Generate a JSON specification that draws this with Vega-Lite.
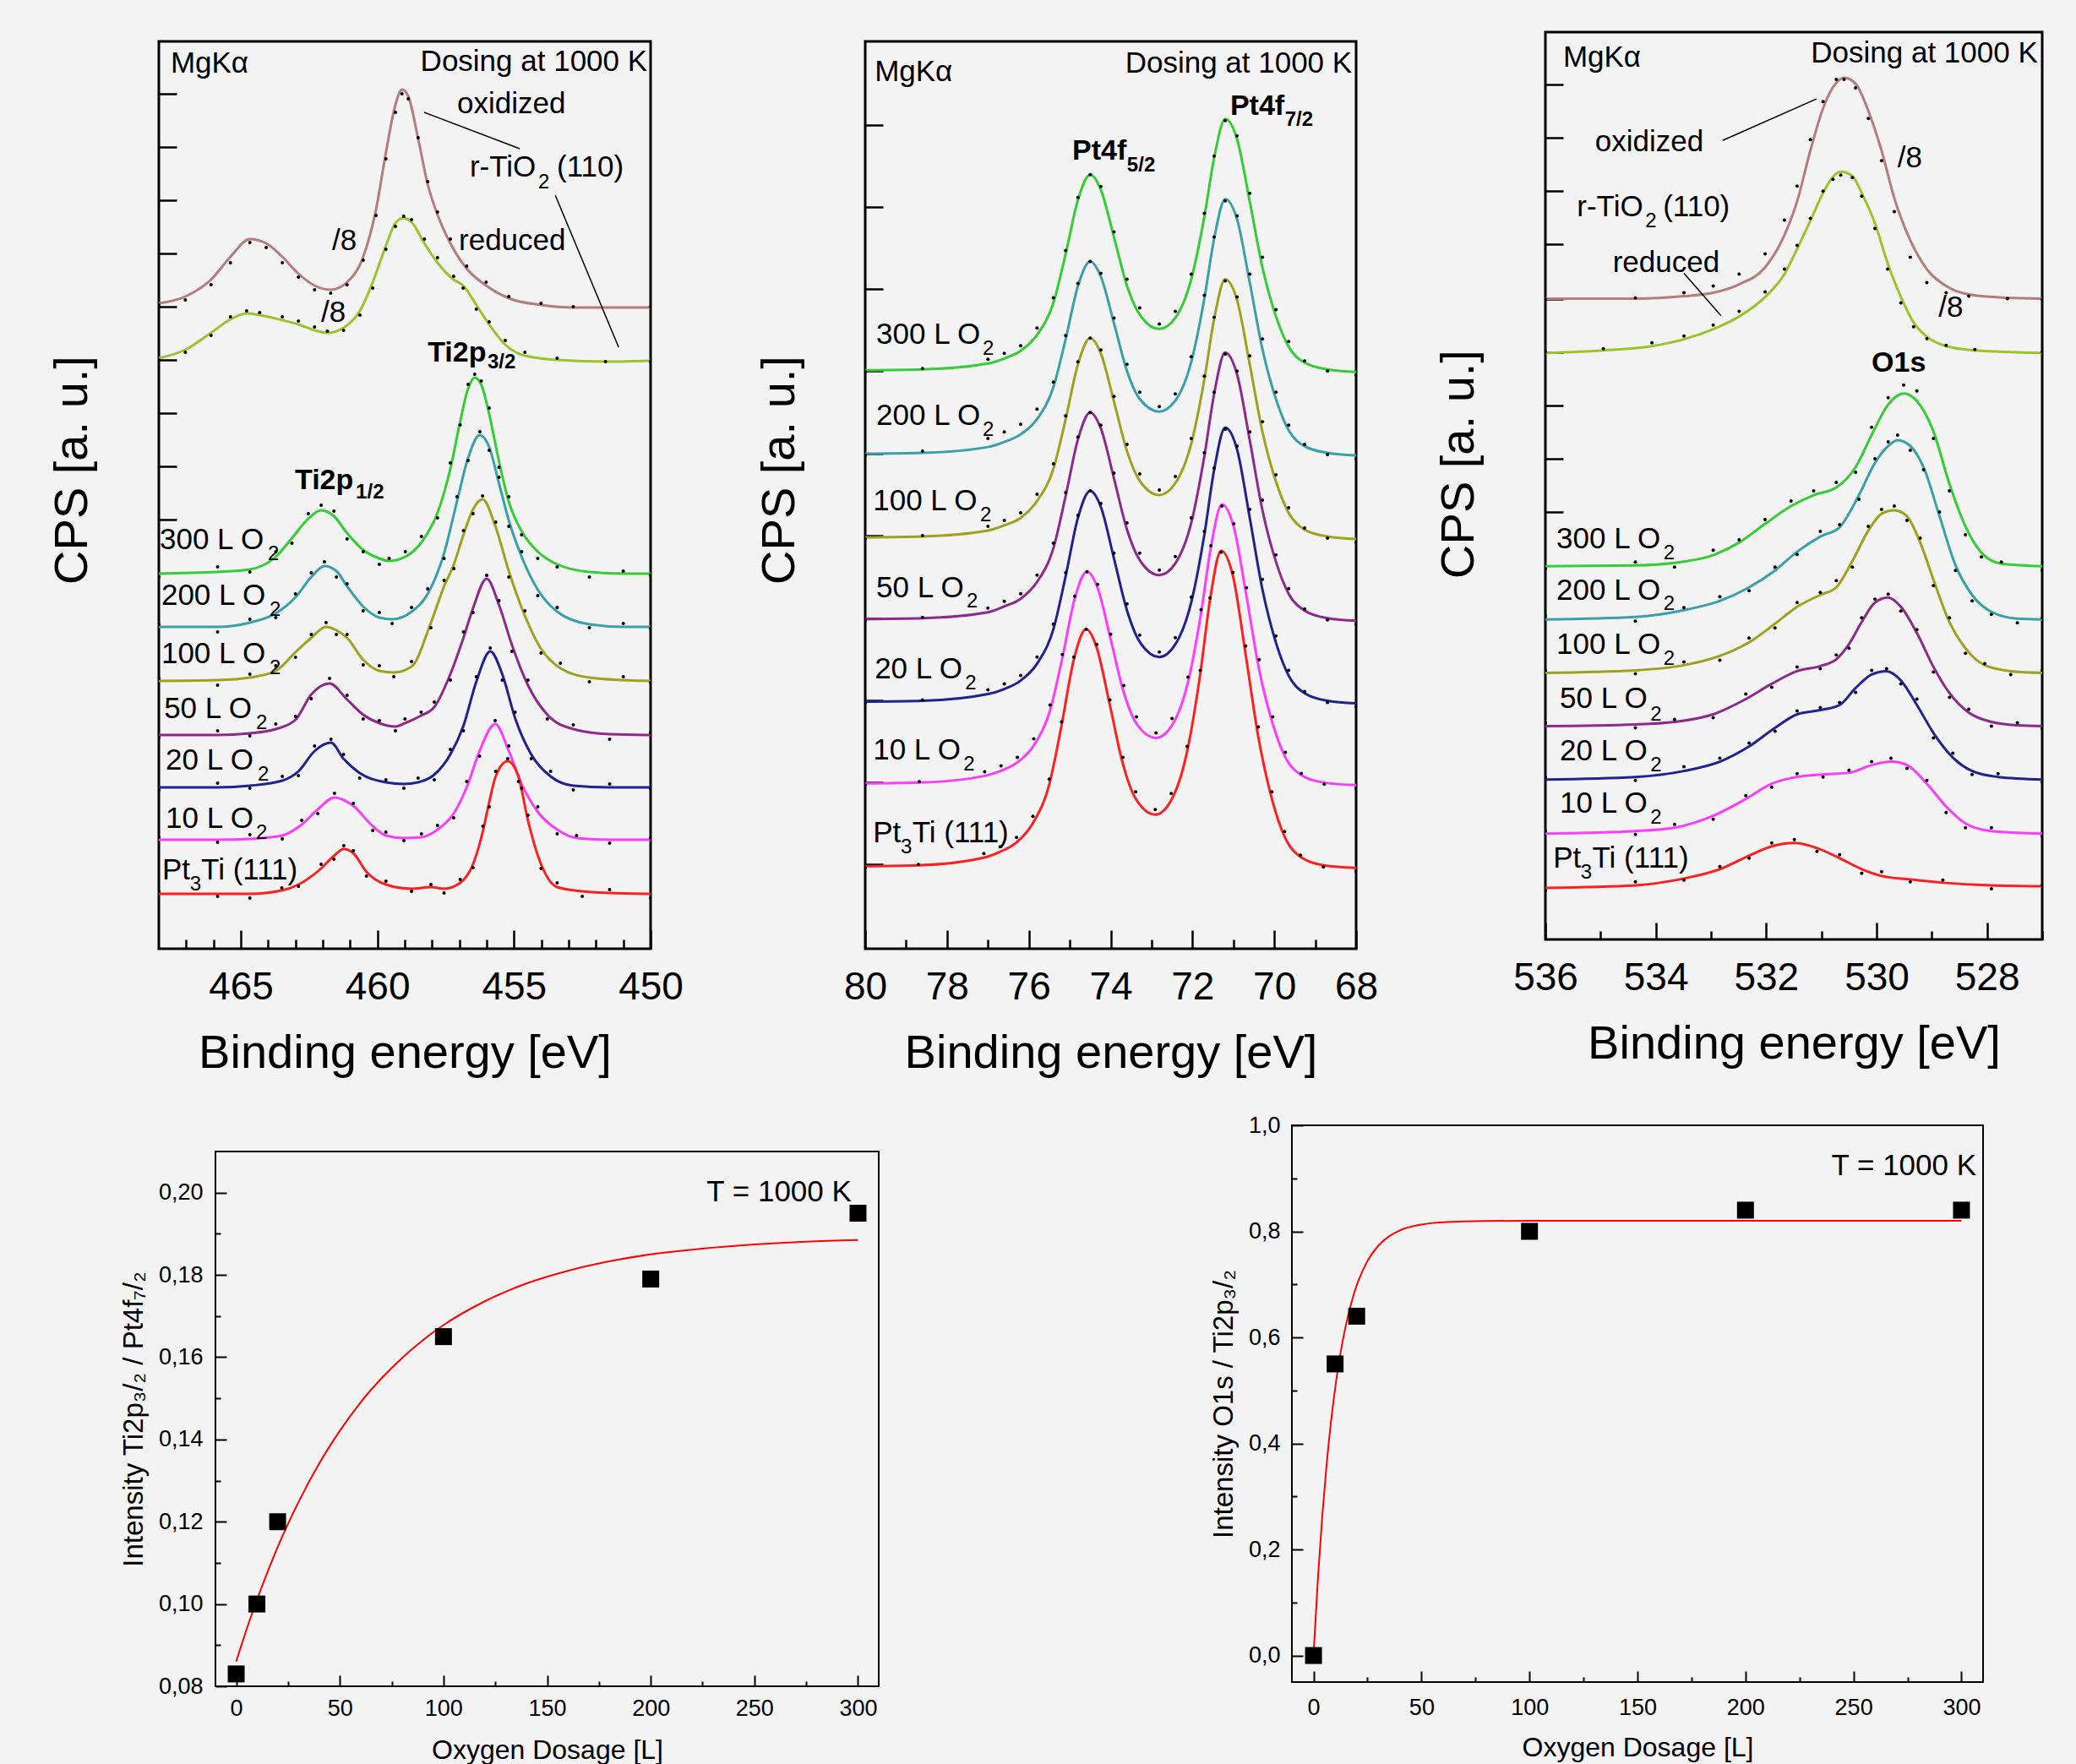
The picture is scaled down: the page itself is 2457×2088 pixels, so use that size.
{
"$schema": "https://vega.github.io/schema/vega-lite/v6.json",
"background": "#f3f3f3",
"padding": {"left": 55, "top": 36, "right": 40, "bottom": 5},
"config": {"font": "Liberation Sans", "text": {"font": "Liberation Sans", "color": "black"}, "axis": {"labelFont": "Liberation Sans", "titleFont": "Liberation Sans", "labelColor": "black", "titleColor": "black", "tickColor": "black", "titleFontWeight": "normal", "grid": false, "labelOverlap": false}, "view": {"stroke": null}},
"datasets": {
"ti": [
{"c":"300","x":468,"f":444,"o":440},{"c":"300","x":465.85,"f":446,"o":452},{"c":"300","x":464.67,"f":449,"o":446},{"c":"300","x":463.72,"f":464,"o":470},{"c":"300","x":463.13,"f":486,"o":480},{"c":"300","x":462.53,"f":509,"o":515},{"c":"300","x":462.06,"f":519,"o":525},{"c":"300","x":461.59,"f":512,"o":518},{"c":"300","x":461.11,"f":492,"o":485},{"c":"300","x":460.52,"f":472,"o":470},{"c":"300","x":459.93,"f":462,"o":455},{"c":"300","x":459.57,"f":459,"o":462},{"c":"300","x":458.98,"f":464,"o":470},{"c":"300","x":458.39,"f":481,"o":488},{"c":"300","x":457.8,"f":516,"o":510},{"c":"300","x":457.33,"f":568,"o":575},{"c":"300","x":456.97,"f":624,"o":620},{"c":"300","x":456.68,"f":663,"o":668},{"c":"300","x":456.44,"f":676,"o":680},{"c":"300","x":456.2,"f":668,"o":672},{"c":"300","x":455.91,"f":633,"o":640},{"c":"300","x":455.55,"f":577,"o":570},{"c":"300","x":455.19,"f":529,"o":535},{"c":"300","x":454.72,"f":494,"o":490},{"c":"300","x":454.13,"f":470,"o":462},{"c":"300","x":453.42,"f":455,"o":452},{"c":"300","x":452.24,"f":446,"o":440},{"c":"300","x":451,"f":444,"o":447},{"c":"300","x":450,"f":444,"o":442},
{"c":"200","x":468,"f":381,"o":384},{"c":"200","x":465.85,"f":381,"o":375},{"c":"200","x":464.67,"f":386,"o":390},{"c":"200","x":463.72,"f":397,"o":392},{"c":"200","x":463.0,"f":416,"o":420},{"c":"200","x":462.42,"f":440,"o":445},{"c":"200","x":461.94,"f":453,"o":458},{"c":"200","x":461.5,"f":447,"o":440},{"c":"200","x":461.11,"f":429,"o":432},{"c":"200","x":460.52,"f":405,"o":400},{"c":"200","x":459.93,"f":392,"o":398},{"c":"200","x":459.46,"f":390,"o":385},{"c":"200","x":458.75,"f":399,"o":404},{"c":"200","x":458.16,"f":420,"o":426},{"c":"200","x":457.56,"f":468,"o":462},{"c":"200","x":457.09,"f":529,"o":535},{"c":"200","x":456.68,"f":581,"o":578},{"c":"200","x":456.25,"f":608,"o":612},{"c":"200","x":455.91,"f":594,"o":590},{"c":"200","x":455.55,"f":551,"o":558},{"c":"200","x":455.19,"f":507,"o":500},{"c":"200","x":454.72,"f":464,"o":470},{"c":"200","x":454.13,"f":425,"o":418},{"c":"200","x":453.42,"f":399,"o":404},{"c":"200","x":452.24,"f":384,"o":380},{"c":"200","x":451,"f":381,"o":385},{"c":"200","x":450,"f":381,"o":379},
{"c":"100","x":468,"f":317,"o":320},{"c":"100","x":465.85,"f":318,"o":312},{"c":"100","x":464.67,"f":321,"o":325},{"c":"100","x":463.72,"f":329,"o":335},{"c":"100","x":463.0,"f":351,"o":345},{"c":"100","x":462.42,"f":368,"o":372},{"c":"100","x":461.88,"f":381,"o":386},{"c":"100","x":461.5,"f":377,"o":372},{"c":"100","x":461.11,"f":368,"o":372},{"c":"100","x":460.52,"f":342,"o":336},{"c":"100","x":459.93,"f":329,"o":335},{"c":"100","x":459.4,"f":327,"o":322},{"c":"100","x":458.75,"f":334,"o":340},{"c":"100","x":458.04,"f":386,"o":380},{"c":"100","x":457.56,"f":429,"o":436},{"c":"100","x":457.2,"f":455,"o":450},{"c":"100","x":456.85,"f":490,"o":495},{"c":"100","x":456.5,"f":520,"o":515},{"c":"100","x":456.15,"f":532,"o":536},{"c":"100","x":455.67,"f":499,"o":505},{"c":"100","x":455.19,"f":447,"o":440},{"c":"100","x":454.6,"f":394,"o":400},{"c":"100","x":454.01,"f":355,"o":350},{"c":"100","x":453.3,"f":332,"o":338},{"c":"100","x":452.24,"f":321,"o":316},{"c":"100","x":451,"f":318,"o":322},{"c":"100","x":450,"f":317,"o":315},
{"c":"50","x":468,"f":253,"o":250},{"c":"50","x":465.85,"f":253,"o":258},{"c":"50","x":464.67,"f":255,"o":252},{"c":"50","x":463.72,"f":260,"o":266},{"c":"50","x":463.0,"f":271,"o":275},{"c":"50","x":462.42,"f":301,"o":296},{"c":"50","x":461.75,"f":314,"o":320},{"c":"50","x":461.11,"f":295,"o":300},{"c":"50","x":460.52,"f":277,"o":272},{"c":"50","x":459.93,"f":267,"o":270},{"c":"50","x":459.34,"f":263,"o":258},{"c":"50","x":458.99,"f":267,"o":272},{"c":"50","x":458.4,"f":276,"o":280},{"c":"50","x":457.92,"f":286,"o":292},{"c":"50","x":457.33,"f":325,"o":318},{"c":"50","x":456.85,"f":368,"o":375},{"c":"50","x":456.5,"f":403,"o":398},{"c":"50","x":456.0,"f":438,"o":442},{"c":"50","x":455.55,"f":407,"o":412},{"c":"50","x":455.08,"f":360,"o":352},{"c":"50","x":454.49,"f":312,"o":318},{"c":"50","x":453.78,"f":277,"o":272},{"c":"50","x":452.83,"f":260,"o":265},{"c":"50","x":451.5,"f":254,"o":248},{"c":"50","x":450,"f":253,"o":256},
{"c":"20","x":468,"f":191,"o":188},{"c":"20","x":465.85,"f":191,"o":196},{"c":"20","x":464.67,"f":193,"o":190},{"c":"20","x":463.48,"f":199,"o":204},{"c":"20","x":462.89,"f":210,"o":205},{"c":"20","x":462.3,"f":234,"o":240},{"c":"20","x":461.7,"f":244,"o":248},{"c":"20","x":461.24,"f":225,"o":230},{"c":"20","x":460.65,"f":208,"o":202},{"c":"20","x":459.69,"f":197,"o":200},{"c":"20","x":459.03,"f":195,"o":190},{"c":"20","x":458.51,"f":197,"o":202},{"c":"20","x":457.92,"f":206,"o":200},{"c":"20","x":457.33,"f":230,"o":236},{"c":"20","x":456.85,"f":264,"o":258},{"c":"20","x":456.38,"f":316,"o":322},{"c":"20","x":455.87,"f":352,"o":356},{"c":"20","x":455.43,"f":325,"o":318},{"c":"20","x":454.96,"f":273,"o":280},{"c":"20","x":454.37,"f":230,"o":225},{"c":"20","x":453.66,"f":204,"o":210},{"c":"20","x":452.83,"f":193,"o":188},{"c":"20","x":451.5,"f":191,"o":195},{"c":"20","x":450,"f":191,"o":189},
{"c":"10","x":468,"f":129,"o":132},{"c":"10","x":465.85,"f":129,"o":126},{"c":"10","x":464.67,"f":130,"o":135},{"c":"10","x":463.48,"f":134,"o":130},{"c":"10","x":462.77,"f":147,"o":152},{"c":"10","x":462.18,"f":165,"o":160},{"c":"10","x":461.57,"f":179,"o":184},{"c":"10","x":460.88,"f":169,"o":172},{"c":"10","x":460.17,"f":145,"o":140},{"c":"10","x":459.69,"f":134,"o":138},{"c":"10","x":459.03,"f":131,"o":128},{"c":"10","x":458.39,"f":132,"o":136},{"c":"10","x":457.8,"f":141,"o":146},{"c":"10","x":457.21,"f":160,"o":155},{"c":"10","x":456.73,"f":191,"o":198},{"c":"10","x":456.26,"f":234,"o":228},{"c":"10","x":455.69,"f":266,"o":270},{"c":"10","x":455.19,"f":234,"o":240},{"c":"10","x":454.72,"f":195,"o":190},{"c":"10","x":454.13,"f":162,"o":168},{"c":"10","x":453.42,"f":141,"o":136},{"c":"10","x":452.71,"f":131,"o":134},{"c":"10","x":451.5,"f":129,"o":125},{"c":"10","x":450,"f":129,"o":131},
{"c":"pt","x":468,"f":65,"o":68},{"c":"pt","x":465.85,"f":65,"o":62},{"c":"pt","x":464.67,"f":65,"o":60},{"c":"pt","x":463.5,"f":69,"o":72},{"c":"pt","x":462.89,"f":76,"o":74},{"c":"pt","x":462.06,"f":95,"o":100},{"c":"pt","x":461.59,"f":110,"o":106},{"c":"pt","x":461.23,"f":118,"o":122},{"c":"pt","x":460.88,"f":113,"o":116},{"c":"pt","x":460.4,"f":91,"o":86},{"c":"pt","x":459.69,"f":76,"o":80},{"c":"pt","x":458.75,"f":71,"o":68},{"c":"pt","x":458.04,"f":73,"o":76},{"c":"pt","x":457.56,"f":71,"o":66},{"c":"pt","x":456.97,"f":78,"o":82},{"c":"pt","x":456.5,"f":100,"o":96},{"c":"pt","x":456.14,"f":139,"o":145},{"c":"pt","x":455.91,"f":173,"o":168},{"c":"pt","x":455.67,"f":204,"o":210},{"c":"pt","x":455.23,"f":222,"o":225},{"c":"pt","x":454.84,"f":204,"o":198},{"c":"pt","x":454.49,"f":152,"o":158},{"c":"pt","x":454.01,"f":100,"o":95},{"c":"pt","x":453.42,"f":73,"o":78},{"c":"pt","x":452.5,"f":68,"o":62},{"c":"pt","x":451.5,"f":66,"o":70},{"c":"pt","x":450,"f":65,"o":60},
{"c":"ox","x":468,"f":764,"o":762},{"c":"ox","x":467.03,"f":772,"o":768},{"c":"ox","x":466.09,"f":792,"o":786},{"c":"ox","x":465.38,"f":819,"o":812},{"c":"ox","x":464.67,"f":840,"o":836},{"c":"ox","x":464.07,"f":835,"o":830},{"c":"ox","x":463.48,"f":819,"o":812},{"c":"ox","x":462.89,"f":799,"o":795},{"c":"ox","x":462.3,"f":785,"o":780},{"c":"ox","x":461.71,"f":780,"o":776},{"c":"ox","x":461.11,"f":789,"o":786},{"c":"ox","x":460.52,"f":819,"o":815},{"c":"ox","x":460.05,"f":875,"o":868},{"c":"ox","x":459.69,"f":942,"o":935},{"c":"ox","x":459.34,"f":999,"o":990},{"c":"ox","x":459.1,"f":1017,"o":1012},{"c":"ox","x":458.87,"f":1009,"o":1006},{"c":"ox","x":458.51,"f":959,"o":960},{"c":"ox","x":458.16,"f":905,"o":908},{"c":"ox","x":457.8,"f":869,"o":872},{"c":"ox","x":457.33,"f":835,"o":840},{"c":"ox","x":456.73,"f":805,"o":808},{"c":"ox","x":456.02,"f":785,"o":789},{"c":"ox","x":455.19,"f":770,"o":772},{"c":"ox","x":454.01,"f":762,"o":764},{"c":"ox","x":452.83,"f":759,"o":760},{"c":"ox","x":450,"f":759,"o":760},
{"c":"rd","x":468,"f":699,"o":697},{"c":"rd","x":467.03,"f":709,"o":706},{"c":"rd","x":466.09,"f":729,"o":726},{"c":"rd","x":465.38,"f":745,"o":748},{"c":"rd","x":464.79,"f":752,"o":755},{"c":"rd","x":464.31,"f":750,"o":753},{"c":"rd","x":463.48,"f":744,"o":748},{"c":"rd","x":462.89,"f":739,"o":743},{"c":"rd","x":462.3,"f":732,"o":736},{"c":"rd","x":461.83,"f":729,"o":731},{"c":"rd","x":461.24,"f":735,"o":732},{"c":"rd","x":460.64,"f":755,"o":750},{"c":"rd","x":460.17,"f":789,"o":782},{"c":"rd","x":459.69,"f":832,"o":828},{"c":"rd","x":459.34,"f":859,"o":855},{"c":"rd","x":459.04,"f":865,"o":867},{"c":"rd","x":458.75,"f":860,"o":863},{"c":"rd","x":458.28,"f":835,"o":840},{"c":"rd","x":457.8,"f":812,"o":818},{"c":"rd","x":457.21,"f":792,"o":796},{"c":"rd","x":456.86,"f":785,"o":782},{"c":"rd","x":456.38,"f":762,"o":757},{"c":"rd","x":455.91,"f":739,"o":742},{"c":"rd","x":455.32,"f":715,"o":720},{"c":"rd","x":454.6,"f":702,"o":706},{"c":"rd","x":453.42,"f":697,"o":699},{"c":"rd","x":451.65,"f":695,"o":695},{"c":"rd","x":450,"f":696,"o":695}
],
"tiA": [
{"t":"MgKα","x":467.57,"y":1037,"k":"m"},{"t":"Dosing at 1000 K","x":450.12,"y":1039,"k":"r"},
{"t":"oxidized","x":457.08,"y":989,"k":"m"},{"t":"r-TiO","x":456.62,"y":914,"k":"m"},{"t":"2","x":454.11,"y":900,"k":"s"},{"t":"(110)","x":453.43,"y":914,"k":"m"},
{"t":"reduced","x":457.02,"y":827,"k":"m"},{"t":"/8","x":461.66,"y":827,"k":"m"},{"t":"/8","x":462.06,"y":742,"k":"m"},
{"t":"Ti2p","x":458.16,"y":695,"k":"b"},{"t":"3/2","x":455.97,"y":687,"k":"bs"},
{"t":"Ti2p","x":463.02,"y":544,"k":"b"},{"t":"1/2","x":460.79,"y":533,"k":"bs"},
{"t":"300 L O","x":467.97,"y":473,"k":"m"},{"t":"2","x":464.01,"y":460,"k":"s"},
{"t":"200 L O","x":467.91,"y":407,"k":"m"},{"t":"2","x":463.95,"y":394,"k":"s"},
{"t":"100 L O","x":467.91,"y":338,"k":"m"},{"t":"2","x":463.95,"y":325,"k":"s"},
{"t":"50 L O","x":467.81,"y":273,"k":"m"},{"t":"2","x":464.44,"y":260,"k":"s"},
{"t":"20 L O","x":467.75,"y":212,"k":"m"},{"t":"2","x":464.38,"y":199,"k":"s"},
{"t":"10 L O","x":467.75,"y":143,"k":"m"},{"t":"2","x":464.44,"y":130,"k":"s"},
{"t":"Pt","x":467.88,"y":82,"k":"m"},{"t":"3","x":466.86,"y":69,"k":"s"},{"t":"Ti (111)","x":466.45,"y":82,"k":"m"}
],
"tiL": [{"x":458.29,"y":990,"x2":454.79,"y2":947},{"x":453.49,"y":892,"x2":451.17,"y2":712}],
"pt": [
{"c":"300","x":80,"f":686,"o":684},{"c":"300","x":78.6,"f":687,"o":688},{"c":"300","x":77.0,"f":694,"o":699},{"c":"300","x":76.6,"f":700,"o":706},{"c":"300","x":76.2,"f":709,"o":715},{"c":"300","x":75.8,"f":728,"o":736},{"c":"300","x":75.4,"f":766,"o":772},{"c":"300","x":75.1,"f":824,"o":828},{"c":"300","x":74.8,"f":888,"o":891},{"c":"300","x":74.5,"f":918,"o":918},{"c":"300","x":74.24,"f":900,"o":904},{"c":"300","x":73.92,"f":844,"o":850},{"c":"300","x":73.6,"f":786,"o":794},{"c":"300","x":73.29,"f":752,"o":760},{"c":"300","x":72.81,"f":735,"o":741},{"c":"300","x":72.42,"f":748,"o":756},{"c":"300","x":72.03,"f":794,"o":800},{"c":"300","x":71.71,"f":868,"o":872},{"c":"300","x":71.47,"f":938,"o":940},{"c":"300","x":71.2,"f":984,"o":982},{"c":"300","x":70.91,"f":960,"o":964},{"c":"300","x":70.6,"f":886,"o":896},{"c":"300","x":70.29,"f":808,"o":820},{"c":"300","x":69.96,"f":750,"o":758},{"c":"300","x":69.65,"f":714,"o":720},{"c":"300","x":69.26,"f":695,"o":697},{"c":"300","x":68.7,"f":687,"o":685},{"c":"300","x":68.0,"f":684,"o":680},
{"c":"200","x":80,"f":587,"o":585},{"c":"200","x":78.6,"f":588,"o":590},{"c":"200","x":77.0,"f":595,"o":605},{"c":"200","x":76.6,"f":601,"o":613},{"c":"200","x":76.2,"f":610,"o":622},{"c":"200","x":75.8,"f":628,"o":640},{"c":"200","x":75.4,"f":666,"o":672},{"c":"200","x":75.1,"f":723,"o":727},{"c":"200","x":74.8,"f":786,"o":789},{"c":"200","x":74.5,"f":815,"o":815},{"c":"200","x":74.24,"f":797,"o":801},{"c":"200","x":73.92,"f":742,"o":748},{"c":"200","x":73.6,"f":685,"o":693},{"c":"200","x":73.29,"f":652,"o":660},{"c":"200","x":72.81,"f":637,"o":643},{"c":"200","x":72.42,"f":650,"o":658},{"c":"200","x":72.03,"f":696,"o":702},{"c":"200","x":71.71,"f":771,"o":775},{"c":"200","x":71.47,"f":842,"o":844},{"c":"200","x":71.2,"f":889,"o":887},{"c":"200","x":70.91,"f":865,"o":869},{"c":"200","x":70.6,"f":790,"o":800},{"c":"200","x":70.29,"f":711,"o":723},{"c":"200","x":69.96,"f":652,"o":660},{"c":"200","x":69.65,"f":615,"o":621},{"c":"200","x":69.26,"f":596,"o":598},{"c":"200","x":68.7,"f":588,"o":586},{"c":"200","x":68.0,"f":585,"o":581},
{"c":"100","x":80,"f":488,"o":486},{"c":"100","x":78.6,"f":489,"o":490},{"c":"100","x":77.0,"f":496,"o":501},{"c":"100","x":76.6,"f":502,"o":508},{"c":"100","x":76.2,"f":511,"o":517},{"c":"100","x":75.8,"f":531,"o":539},{"c":"100","x":75.4,"f":569,"o":575},{"c":"100","x":75.1,"f":628,"o":632},{"c":"100","x":74.8,"f":693,"o":696},{"c":"100","x":74.5,"f":724,"o":724},{"c":"100","x":74.24,"f":706,"o":710},{"c":"100","x":73.92,"f":649,"o":655},{"c":"100","x":73.6,"f":590,"o":598},{"c":"100","x":73.29,"f":555,"o":563},{"c":"100","x":72.81,"f":538,"o":544},{"c":"100","x":72.42,"f":552,"o":560},{"c":"100","x":72.03,"f":599,"o":605},{"c":"100","x":71.71,"f":675,"o":679},{"c":"100","x":71.47,"f":747,"o":749},{"c":"100","x":71.2,"f":794,"o":792},{"c":"100","x":70.91,"f":769,"o":773},{"c":"100","x":70.6,"f":693,"o":703},{"c":"100","x":70.29,"f":613,"o":625},{"c":"100","x":69.96,"f":554,"o":562},{"c":"100","x":69.65,"f":517,"o":523},{"c":"100","x":69.26,"f":497,"o":499},{"c":"100","x":68.7,"f":489,"o":487},{"c":"100","x":68.0,"f":486,"o":482},
{"c":"50","x":80,"f":391,"o":389},{"c":"50","x":78.6,"f":392,"o":393},{"c":"50","x":77.0,"f":399,"o":404},{"c":"50","x":76.6,"f":406,"o":412},{"c":"50","x":76.2,"f":415,"o":421},{"c":"50","x":75.8,"f":435,"o":443},{"c":"50","x":75.4,"f":475,"o":481},{"c":"50","x":75.1,"f":537,"o":541},{"c":"50","x":74.8,"f":604,"o":607},{"c":"50","x":74.5,"f":636,"o":636},{"c":"50","x":74.24,"f":617,"o":621},{"c":"50","x":73.92,"f":558,"o":564},{"c":"50","x":73.6,"f":497,"o":505},{"c":"50","x":73.29,"f":461,"o":469},{"c":"50","x":72.81,"f":443,"o":449},{"c":"50","x":72.42,"f":457,"o":465},{"c":"50","x":72.03,"f":505,"o":511},{"c":"50","x":71.71,"f":584,"o":588},{"c":"50","x":71.47,"f":658,"o":660},{"c":"50","x":71.2,"f":707,"o":705},{"c":"50","x":70.91,"f":681,"o":685},{"c":"50","x":70.6,"f":603,"o":613},{"c":"50","x":70.29,"f":520,"o":532},{"c":"50","x":69.96,"f":459,"o":467},{"c":"50","x":69.65,"f":421,"o":427},{"c":"50","x":69.26,"f":401,"o":403},{"c":"50","x":68.7,"f":392,"o":390},{"c":"50","x":68.0,"f":389,"o":385},
{"c":"20","x":80,"f":293,"o":291},{"c":"20","x":78.6,"f":294,"o":295},{"c":"20","x":77.0,"f":302,"o":307},{"c":"20","x":76.6,"f":308,"o":314},{"c":"20","x":76.2,"f":318,"o":324},{"c":"20","x":75.8,"f":338,"o":346},{"c":"20","x":75.4,"f":379,"o":385},{"c":"20","x":75.1,"f":442,"o":446},{"c":"20","x":74.8,"f":511,"o":514},{"c":"20","x":74.5,"f":543,"o":543},{"c":"20","x":74.24,"f":524,"o":528},{"c":"20","x":73.92,"f":463,"o":469},{"c":"20","x":73.6,"f":401,"o":409},{"c":"20","x":73.29,"f":364,"o":372},{"c":"20","x":72.81,"f":346,"o":352},{"c":"20","x":72.42,"f":361,"o":369},{"c":"20","x":72.03,"f":411,"o":417},{"c":"20","x":71.71,"f":491,"o":495},{"c":"20","x":71.47,"f":568,"o":570},{"c":"20","x":71.2,"f":618,"o":616},{"c":"20","x":70.91,"f":592,"o":596},{"c":"20","x":70.6,"f":511,"o":521},{"c":"20","x":70.29,"f":426,"o":438},{"c":"20","x":69.96,"f":363,"o":371},{"c":"20","x":69.65,"f":324,"o":330},{"c":"20","x":69.26,"f":303,"o":305},{"c":"20","x":68.7,"f":294,"o":292},{"c":"20","x":68.0,"f":291,"o":287},
{"c":"10","x":80,"f":196,"o":194},{"c":"10","x":78.68,"f":197,"o":198},{"c":"10","x":77.08,"f":205,"o":210},{"c":"10","x":76.68,"f":211,"o":217},{"c":"10","x":76.28,"f":221,"o":227},{"c":"10","x":75.88,"f":241,"o":249},{"c":"10","x":75.48,"f":283,"o":289},{"c":"10","x":75.18,"f":345,"o":349},{"c":"10","x":74.88,"f":415,"o":418},{"c":"10","x":74.58,"f":447,"o":447},{"c":"10","x":74.32,"f":428,"o":432},{"c":"10","x":74.0,"f":367,"o":373},{"c":"10","x":73.68,"f":304,"o":312},{"c":"10","x":73.37,"f":267,"o":275},{"c":"10","x":72.89,"f":250,"o":256},{"c":"10","x":72.5,"f":265,"o":273},{"c":"10","x":72.11,"f":316,"o":322},{"c":"10","x":71.79,"f":398,"o":402},{"c":"10","x":71.55,"f":476,"o":478},{"c":"10","x":71.28,"f":527,"o":525},{"c":"10","x":70.99,"f":500,"o":504},{"c":"10","x":70.68,"f":418,"o":428},{"c":"10","x":70.37,"f":331,"o":343},{"c":"10","x":70.04,"f":267,"o":275},{"c":"10","x":69.73,"f":227,"o":233},{"c":"10","x":69.34,"f":206,"o":208},{"c":"10","x":68.78,"f":197,"o":195},{"c":"10","x":68.0,"f":194,"o":190},
{"c":"pt","x":80,"f":98,"o":96},{"c":"pt","x":78.7,"f":99,"o":100},{"c":"pt","x":77.1,"f":108,"o":113},{"c":"pt","x":76.7,"f":115,"o":121},{"c":"pt","x":76.3,"f":126,"o":132},{"c":"pt","x":75.9,"f":149,"o":157},{"c":"pt","x":75.5,"f":195,"o":201},{"c":"pt","x":75.2,"f":265,"o":269},{"c":"pt","x":74.9,"f":343,"o":346},{"c":"pt","x":74.6,"f":379,"o":379},{"c":"pt","x":74.34,"f":357,"o":361},{"c":"pt","x":74.02,"f":289,"o":295},{"c":"pt","x":73.7,"f":219,"o":227},{"c":"pt","x":73.39,"f":178,"o":186},{"c":"pt","x":72.91,"f":159,"o":165},{"c":"pt","x":72.52,"f":176,"o":184},{"c":"pt","x":72.13,"f":234,"o":240},{"c":"pt","x":71.81,"f":326,"o":330},{"c":"pt","x":71.57,"f":414,"o":416},{"c":"pt","x":71.3,"f":472,"o":470},{"c":"pt","x":71.01,"f":442,"o":446},{"c":"pt","x":70.7,"f":349,"o":359},{"c":"pt","x":70.39,"f":251,"o":263},{"c":"pt","x":70.06,"f":178,"o":186},{"c":"pt","x":69.75,"f":133,"o":139},{"c":"pt","x":69.36,"f":109,"o":111},{"c":"pt","x":68.8,"f":99,"o":97},{"c":"pt","x":68.0,"f":96,"o":92}
],
"ptA": [
{"t":"MgKα","x":79.77,"y":1029,"k":"m"},{"t":"Dosing at 1000 K","x":68.1,"y":1039,"k":"r"},
{"t":"Pt4f","x":74.94,"y":936,"k":"b"},{"t":"5/2","x":73.6,"y":922,"k":"bs"},
{"t":"Pt4f","x":71.08,"y":989,"k":"b"},{"t":"7/2","x":69.74,"y":976,"k":"bs"},
{"t":"300 L O","x":79.73,"y":717,"k":"m"},{"t":"2","x":77.13,"y":704,"k":"s"},
{"t":"200 L O","x":79.73,"y":621,"k":"m"},{"t":"2","x":77.13,"y":608,"k":"s"},
{"t":"100 L O","x":79.81,"y":520,"k":"m"},{"t":"2","x":77.19,"y":507,"k":"s"},
{"t":"50 L O","x":79.73,"y":417,"k":"m"},{"t":"2","x":77.52,"y":405,"k":"s"},
{"t":"20 L O","x":79.77,"y":321,"k":"m"},{"t":"2","x":77.56,"y":308,"k":"s"},
{"t":"10 L O","x":79.81,"y":224,"k":"m"},{"t":"2","x":77.6,"y":211,"k":"s"},
{"t":"Pt","x":79.81,"y":126,"k":"m"},{"t":"3","x":79.13,"y":113,"k":"s"},{"t":"Ti (111)","x":78.85,"y":126,"k":"m"}
],
"o": [
{"c":"ox","x":536,"f":757,"o":756},{"c":"ox","x":534.37,"f":757,"o":758},{"c":"ox","x":533.49,"f":760,"o":764},{"c":"ox","x":532.96,"f":764,"o":772},{"c":"ox","x":532.49,"f":774,"o":786},{"c":"ox","x":532.02,"f":794,"o":810},{"c":"ox","x":531.67,"f":832,"o":850},{"c":"ox","x":531.44,"f":872,"o":890},{"c":"ox","x":531.2,"f":932,"o":945},{"c":"ox","x":530.97,"f":982,"o":990},{"c":"ox","x":530.73,"f":1012,"o":1016},{"c":"ox","x":530.59,"f":1018,"o":1016},{"c":"ox","x":530.38,"f":1011,"o":1006},{"c":"ox","x":530.15,"f":979,"o":970},{"c":"ox","x":529.91,"f":932,"o":920},{"c":"ox","x":529.68,"f":876,"o":860},{"c":"ox","x":529.39,"f":826,"o":806},{"c":"ox","x":529.09,"f":792,"o":776},{"c":"ox","x":528.74,"f":772,"o":764},{"c":"ox","x":528.33,"f":762,"o":760},{"c":"ox","x":527.63,"f":758,"o":757},{"c":"ox","x":527,"f":757,"o":756},
{"c":"rd","x":536,"f":693,"o":694},{"c":"rd","x":534.95,"f":696,"o":698},{"c":"rd","x":534.07,"f":701,"o":705},{"c":"rd","x":533.49,"f":709,"o":713},{"c":"rd","x":532.96,"f":721,"o":726},{"c":"rd","x":532.49,"f":736,"o":742},{"c":"rd","x":532.02,"f":759,"o":765},{"c":"rd","x":531.67,"f":786,"o":792},{"c":"rd","x":531.44,"f":816,"o":820},{"c":"rd","x":531.2,"f":849,"o":852},{"c":"rd","x":530.97,"f":882,"o":884},{"c":"rd","x":530.79,"f":901,"o":898},{"c":"rd","x":530.65,"f":907,"o":903},{"c":"rd","x":530.44,"f":902,"o":900},{"c":"rd","x":530.27,"f":882,"o":878},{"c":"rd","x":530.03,"f":846,"o":840},{"c":"rd","x":529.8,"f":799,"o":792},{"c":"rd","x":529.56,"f":759,"o":752},{"c":"rd","x":529.33,"f":729,"o":724},{"c":"rd","x":529.09,"f":712,"o":710},{"c":"rd","x":528.74,"f":701,"o":702},{"c":"rd","x":528.22,"f":696,"o":697},{"c":"rd","x":527,"f":693,"o":694},
{"c":"300","x":536,"f":441,"o":438},{"c":"300","x":534.37,"f":442,"o":446},{"c":"300","x":533.66,"f":445,"o":440},{"c":"300","x":532.96,"f":454,"o":460},{"c":"300","x":532.49,"f":469,"o":472},{"c":"300","x":532.02,"f":491,"o":496},{"c":"300","x":531.55,"f":512,"o":518},{"c":"300","x":531.14,"f":525,"o":530},{"c":"300","x":530.73,"f":534,"o":540},{"c":"300","x":530.38,"f":558,"o":552},{"c":"300","x":530.09,"f":596,"o":605},{"c":"300","x":529.79,"f":632,"o":640},{"c":"300","x":529.51,"f":645,"o":655},{"c":"300","x":529.27,"f":636,"o":648},{"c":"300","x":528.97,"f":600,"o":592},{"c":"300","x":528.68,"f":538,"o":530},{"c":"300","x":528.39,"f":488,"o":478},{"c":"300","x":528.1,"f":457,"o":452},{"c":"300","x":527.74,"f":444,"o":446},{"c":"300","x":527,"f":441,"o":436},
{"c":"200","x":536,"f":378,"o":382},{"c":"200","x":534.37,"f":381,"o":376},{"c":"200","x":533.49,"f":389,"o":392},{"c":"200","x":532.84,"f":400,"o":405},{"c":"200","x":532.31,"f":416,"o":412},{"c":"200","x":531.84,"f":436,"o":440},{"c":"200","x":531.44,"f":458,"o":455},{"c":"200","x":531.02,"f":476,"o":482},{"c":"200","x":530.67,"f":487,"o":490},{"c":"200","x":530.32,"f":525,"o":520},{"c":"200","x":530.03,"f":563,"o":568},{"c":"200","x":529.79,"f":583,"o":588},{"c":"200","x":529.62,"f":590,"o":596},{"c":"200","x":529.39,"f":583,"o":578},{"c":"200","x":529.15,"f":558,"o":555},{"c":"200","x":528.86,"f":500,"o":505},{"c":"200","x":528.57,"f":442,"o":436},{"c":"200","x":528.27,"f":407,"o":400},{"c":"200","x":527.92,"f":387,"o":384},{"c":"200","x":527.45,"f":379,"o":374},{"c":"200","x":527,"f":378,"o":380},
{"c":"100","x":536,"f":315,"o":318},{"c":"100","x":534.37,"f":318,"o":314},{"c":"100","x":533.49,"f":324,"o":328},{"c":"100","x":532.84,"f":335,"o":330},{"c":"100","x":532.31,"f":351,"o":356},{"c":"100","x":531.84,"f":373,"o":368},{"c":"100","x":531.44,"f":393,"o":398},{"c":"100","x":531.02,"f":407,"o":410},{"c":"100","x":530.73,"f":416,"o":424},{"c":"100","x":530.44,"f":447,"o":440},{"c":"100","x":530.15,"f":483,"o":488},{"c":"100","x":529.91,"f":503,"o":508},{"c":"100","x":529.68,"f":507,"o":512},{"c":"100","x":529.45,"f":500,"o":495},{"c":"100","x":529.21,"f":469,"o":474},{"c":"100","x":528.97,"f":425,"o":418},{"c":"100","x":528.68,"f":375,"o":380},{"c":"100","x":528.39,"f":344,"o":338},{"c":"100","x":528.04,"f":324,"o":326},{"c":"100","x":527.57,"f":317,"o":313},{"c":"100","x":527,"f":315,"o":318},
{"c":"50","x":536,"f":252,"o":256},{"c":"50","x":534.37,"f":254,"o":250},{"c":"50","x":533.66,"f":257,"o":260},{"c":"50","x":532.96,"f":266,"o":262},{"c":"50","x":532.37,"f":284,"o":290},{"c":"50","x":531.9,"f":302,"o":298},{"c":"50","x":531.44,"f":317,"o":322},{"c":"50","x":531.02,"f":323,"o":320},{"c":"50","x":530.73,"f":331,"o":336},{"c":"50","x":530.5,"f":349,"o":344},{"c":"50","x":530.27,"f":375,"o":380},{"c":"50","x":530.03,"f":398,"o":402},{"c":"50","x":529.79,"f":404,"o":408},{"c":"50","x":529.56,"f":393,"o":388},{"c":"50","x":529.27,"f":362,"o":366},{"c":"50","x":528.97,"f":322,"o":316},{"c":"50","x":528.68,"f":291,"o":286},{"c":"50","x":528.33,"f":268,"o":272},{"c":"50","x":527.92,"f":257,"o":252},{"c":"50","x":527.45,"f":253,"o":256},{"c":"50","x":527,"f":252,"o":249},
{"c":"20","x":536,"f":189,"o":192},{"c":"20","x":534.37,"f":192,"o":188},{"c":"20","x":533.49,"f":199,"o":204},{"c":"20","x":532.84,"f":210,"o":214},{"c":"20","x":532.31,"f":228,"o":232},{"c":"20","x":531.84,"f":250,"o":246},{"c":"20","x":531.44,"f":266,"o":270},{"c":"20","x":531.02,"f":271,"o":274},{"c":"20","x":530.67,"f":277,"o":280},{"c":"20","x":530.38,"f":297,"o":292},{"c":"20","x":530.09,"f":313,"o":318},{"c":"20","x":529.82,"f":317,"o":320},{"c":"20","x":529.56,"f":306,"o":302},{"c":"20","x":529.27,"f":277,"o":284},{"c":"20","x":528.97,"f":244,"o":238},{"c":"20","x":528.62,"f":215,"o":220},{"c":"20","x":528.27,"f":199,"o":195},{"c":"20","x":527.8,"f":192,"o":196},{"c":"20","x":527,"f":189,"o":186},
{"c":"10","x":536,"f":125,"o":128},{"c":"10","x":534.37,"f":128,"o":124},{"c":"10","x":533.66,"f":132,"o":136},{"c":"10","x":532.96,"f":146,"o":142},{"c":"10","x":532.37,"f":166,"o":170},{"c":"10","x":531.9,"f":184,"o":180},{"c":"10","x":531.44,"f":192,"o":196},{"c":"10","x":530.97,"f":195,"o":192},{"c":"10","x":530.5,"f":197,"o":200},{"c":"10","x":530.09,"f":206,"o":210},{"c":"10","x":529.74,"f":210,"o":214},{"c":"10","x":529.45,"f":206,"o":202},{"c":"10","x":529.09,"f":184,"o":188},{"c":"10","x":528.74,"f":157,"o":150},{"c":"10","x":528.39,"f":137,"o":132},{"c":"10","x":527.92,"f":128,"o":132},{"c":"10","x":527,"f":125,"o":122},
{"c":"pt","x":536,"f":61,"o":58},{"c":"pt","x":534.37,"f":64,"o":68},{"c":"pt","x":533.49,"f":72,"o":70},{"c":"pt","x":532.84,"f":83,"o":86},{"c":"pt","x":532.31,"f":99,"o":96},{"c":"pt","x":531.9,"f":110,"o":114},{"c":"pt","x":531.49,"f":114,"o":118},{"c":"pt","x":531.08,"f":108,"o":104},{"c":"pt","x":530.67,"f":96,"o":100},{"c":"pt","x":530.27,"f":83,"o":78},{"c":"pt","x":529.91,"f":75,"o":80},{"c":"pt","x":529.39,"f":71,"o":68},{"c":"pt","x":528.8,"f":67,"o":70},{"c":"pt","x":527.92,"f":64,"o":60},{"c":"pt","x":527,"f":63,"o":64}
],
"oA": [
{"t":"MgKα","x":535.68,"y":1031,"k":"m"},{"t":"Dosing at 1000 K","x":527.08,"y":1036,"k":"r"},
{"t":"oxidized","x":535.1,"y":931,"k":"m"},{"t":"/8","x":529.62,"y":912,"k":"m"},
{"t":"r-TiO","x":535.43,"y":854,"k":"m"},{"t":"2","x":534.19,"y":841,"k":"s"},{"t":"(110)","x":533.87,"y":854,"k":"m"},
{"t":"reduced","x":534.78,"y":789,"k":"m"},{"t":"/8","x":528.88,"y":736,"k":"m"},
{"t":"O1s","x":530.09,"y":671,"k":"b"},
{"t":"300 L O","x":535.8,"y":462,"k":"m"},{"t":"2","x":533.86,"y":449,"k":"s"},
{"t":"200 L O","x":535.8,"y":401,"k":"m"},{"t":"2","x":533.86,"y":389,"k":"s"},
{"t":"100 L O","x":535.8,"y":337,"k":"m"},{"t":"2","x":533.86,"y":324,"k":"s"},
{"t":"50 L O","x":535.74,"y":273,"k":"m"},{"t":"2","x":534.1,"y":259,"k":"s"},
{"t":"20 L O","x":535.74,"y":212,"k":"m"},{"t":"2","x":534.1,"y":199,"k":"s"},
{"t":"10 L O","x":535.74,"y":150,"k":"m"},{"t":"2","x":534.1,"y":137,"k":"s"},
{"t":"Pt","x":535.86,"y":85,"k":"m"},{"t":"3","x":535.36,"y":72,"k":"s"},{"t":"Ti (111)","x":535.15,"y":85,"k":"m"}
],
"oL": [{"x":532.79,"y":944,"x2":531.09,"y2":993},{"x":533.49,"y":787,"x2":532.82,"y2":737}],
"bl": [{"x":0,"y":0.083},{"x":10,"y":0.1},{"x":20,"y":0.12},{"x":100,"y":0.165},{"x":200,"y":0.179},{"x":300,"y":0.195}],
"blf": [{"x":0,"y":0.086},{"x":5,"y":0.0938},{"x":10,"y":0.101},{"x":15,"y":0.1076},{"x":20,"y":0.1138},{"x":30,"y":0.1247},{"x":40,"y":0.1341},{"x":50,"y":0.1421},{"x":60,"y":0.149},{"x":70,"y":0.1548},{"x":80,"y":0.1598},{"x":90,"y":0.1641},{"x":100,"y":0.1678},{"x":120,"y":0.1736},{"x":140,"y":0.1779},{"x":160,"y":0.181},{"x":180,"y":0.1833},{"x":200,"y":0.185},{"x":225,"y":0.1864},{"x":250,"y":0.1874},{"x":275,"y":0.1881},{"x":300,"y":0.1885}],
"blA": [{"t":"T = 1000 K","x":296.9,"y":0.1979}],
"br": [{"x":0,"y":0.0},{"x":10,"y":0.55},{"x":20,"y":0.64},{"x":100,"y":0.8},{"x":200,"y":0.84},{"x":300,"y":0.84}],
"brf": [{"x":0,"y":0},{"x":2,"y":0.1422},{"x":4,"y":0.2598},{"x":6,"y":0.3569},{"x":8,"y":0.4372},{"x":10,"y":0.5036},{"x":12,"y":0.5585},{"x":15,"y":0.6234},{"x":18,"y":0.6723},{"x":21,"y":0.7091},{"x":25,"y":0.7441},{"x":30,"y":0.7729},{"x":35,"y":0.7907},{"x":40,"y":0.8019},{"x":50,"y":0.8129},{"x":60,"y":0.8173},{"x":80,"y":0.8196},{"x":100,"y":0.82},{"x":150,"y":0.82},{"x":200,"y":0.82},{"x":250,"y":0.82},{"x":300,"y":0.82}],
"brA": [{"t":"T = 1000 K","x":306.9,"y":0.906}]
},
"vconcat": [
{
 "hconcat": [
  {
   "vconcat": [
    {"width": 1, "height": 1, "data": {"values": []}, "mark": "point", "view": {"stroke": null}},
    {
     "width": 582, "height": 1074,
     "view": {"stroke": "black", "strokeWidth": 3},
     "resolve": {"axis": {"x": "independent"}},
     "layer": [
      {"data": {"name": "ti"}, "mark": {"type": "line", "interpolate": "monotone", "strokeWidth": 3, "clip": true},
       "encoding": {
        "x": {"field": "x", "type": "quantitative", "scale": {"domain": [450, 468], "reverse": true, "nice": false, "zero": false},
         "axis": {"orient": "bottom", "values": [450, 455, 460, 465], "tickSize": -22, "tickWidth": 2.5, "domain": false, "labelFontSize": 46, "labelPadding": 45, "labelFlush": false, "labelOverlap": false, "title": "Binding energy [eV]", "titleFontSize": 56, "titlePadding": 28}},
        "y": {"field": "f", "type": "quantitative", "scale": {"domain": [0, 1074], "nice": false, "zero": false},
         "axis": {"values": [1012,949,886,823,760,697,634,571,508], "labels": false, "tickSize": -21, "tickWidth": 2.5, "domain": false, "title": "CPS [a. u.]", "titleFontSize": 56, "titleX": -103, "titleY": 507, "titleAngle": 270, "titleAlign": "center", "titleBaseline": "middle"}},
        "color": {"field": "c", "type": "nominal", "scale": {"domain": ["300","200","100","50","20","10","pt","ox","rd"], "range": ["#35cc35","#3aa0a8","#a0a020","#8c2a8c","#22228c","#ff3dff","#ff2020","#b47c7c","#9ec22c"]}, "legend": null}
       }},
      {"data": {"name": "ti"}, "mark": {"type": "point", "filled": true, "size": 16, "color": "black", "opacity": 1, "clip": true},
       "encoding": {
        "x": {"field": "x", "type": "quantitative", "axis": {"orient": "bottom", "values": [451,452,453,454,456,457,458,459,461,462,463,464,466,467], "labels": false, "tickSize": -11, "tickWidth": 2.5, "domain": false, "title": null}},
        "y": {"field": "o", "type": "quantitative"}}},
      {"data": {"name": "tiL"}, "mark": {"type": "rule", "color": "black", "strokeWidth": 1.5},
       "encoding": {"x": {"field": "x", "type": "quantitative", "axis": null}, "y": {"field": "y", "type": "quantitative"}, "x2": {"field": "x2"}, "y2": {"field": "y2"}}},
      {"data": {"name": "tiA"}, "transform": [{"filter": "datum.k == 'm'"}], "mark": {"type": "text", "fontSize": 35, "align": "left", "baseline": "alphabetic"},
       "encoding": {"x": {"field": "x", "type": "quantitative", "axis": null}, "y": {"field": "y", "type": "quantitative"}, "text": {"field": "t"}}},
      {"data": {"name": "tiA"}, "transform": [{"filter": "datum.k == 's'"}], "mark": {"type": "text", "fontSize": 24, "align": "left", "baseline": "alphabetic"},
       "encoding": {"x": {"field": "x", "type": "quantitative", "axis": null}, "y": {"field": "y", "type": "quantitative"}, "text": {"field": "t"}}},
      {"data": {"name": "tiA"}, "transform": [{"filter": "datum.k == 'b'"}], "mark": {"type": "text", "fontSize": 34, "fontWeight": "bold", "align": "left", "baseline": "alphabetic"},
       "encoding": {"x": {"field": "x", "type": "quantitative", "axis": null}, "y": {"field": "y", "type": "quantitative"}, "text": {"field": "t"}}},
      {"data": {"name": "tiA"}, "transform": [{"filter": "datum.k == 'bs'"}], "mark": {"type": "text", "fontSize": 24, "fontWeight": "bold", "align": "left", "baseline": "alphabetic"},
       "encoding": {"x": {"field": "x", "type": "quantitative", "axis": null}, "y": {"field": "y", "type": "quantitative"}, "text": {"field": "t"}}},
      {"data": {"name": "tiA"}, "transform": [{"filter": "datum.k == 'r'"}], "mark": {"type": "text", "fontSize": 35, "align": "right", "baseline": "alphabetic"},
       "encoding": {"x": {"field": "x", "type": "quantitative", "axis": null}, "y": {"field": "y", "type": "quantitative"}, "text": {"field": "t"}}}
     ]
    }
   ],
   "spacing": 10, "bounds": "flush"
  },
  {"width": 836, "height": 1, "data": {"values": []}, "mark": "point", "view": {"stroke": null}},
  {
   "vconcat": [
    {"width": 1, "height": 1, "data": {"values": []}, "mark": "point", "view": {"stroke": null}},
    {
     "width": 581, "height": 1074,
     "view": {"stroke": "black", "strokeWidth": 3},
     "resolve": {"axis": {"x": "independent"}},
     "layer": [
      {"data": {"name": "pt"}, "mark": {"type": "line", "interpolate": "monotone", "strokeWidth": 3, "clip": true},
       "encoding": {
        "x": {"field": "x", "type": "quantitative", "scale": {"domain": [68, 80], "reverse": true, "nice": false, "zero": false},
         "axis": {"orient": "bottom", "values": [68,70,72,74,76,78,80], "tickSize": -22, "tickWidth": 2.5, "domain": false, "labelFontSize": 46, "labelPadding": 45, "labelFlush": false, "labelOverlap": false, "title": "Binding energy [eV]", "titleFontSize": 56, "titlePadding": 28}},
        "y": {"field": "f", "type": "quantitative", "scale": {"domain": [0, 1076], "nice": false, "zero": false},
         "axis": {"values": [977,880,782,685,587,490,392,295,197,100], "labels": false, "tickSize": -21, "tickWidth": 2.5, "domain": false, "title": "CPS [a. u.]", "titleFontSize": 56, "titleX": -102, "titleY": 507, "titleAngle": 270, "titleAlign": "center", "titleBaseline": "middle"}},
        "color": {"field": "c", "type": "nominal", "scale": {"domain": ["300","200","100","50","20","10","pt","ox","rd"], "range": ["#35cc35","#3aa0a8","#a0a020","#8c2a8c","#22228c","#ff3dff","#ff2020","#b47c7c","#9ec22c"]}, "legend": null}
       }},
      {"data": {"name": "pt"}, "mark": {"type": "point", "filled": true, "size": 16, "color": "black", "opacity": 1, "clip": true},
       "encoding": {
        "x": {"field": "x", "type": "quantitative", "axis": {"orient": "bottom", "values": [69,71,73,75,77,79], "labels": false, "tickSize": -11, "tickWidth": 2.5, "domain": false, "title": null}},
        "y": {"field": "o", "type": "quantitative"}}},
      {"data": {"name": "ptA"}, "transform": [{"filter": "datum.k == 'm'"}], "mark": {"type": "text", "fontSize": 35, "align": "left", "baseline": "alphabetic"},
       "encoding": {"x": {"field": "x", "type": "quantitative", "axis": null}, "y": {"field": "y", "type": "quantitative"}, "text": {"field": "t"}}},
      {"data": {"name": "ptA"}, "transform": [{"filter": "datum.k == 's'"}], "mark": {"type": "text", "fontSize": 24, "align": "left", "baseline": "alphabetic"},
       "encoding": {"x": {"field": "x", "type": "quantitative", "axis": null}, "y": {"field": "y", "type": "quantitative"}, "text": {"field": "t"}}},
      {"data": {"name": "ptA"}, "transform": [{"filter": "datum.k == 'b'"}], "mark": {"type": "text", "fontSize": 34, "fontWeight": "bold", "align": "left", "baseline": "alphabetic"},
       "encoding": {"x": {"field": "x", "type": "quantitative", "axis": null}, "y": {"field": "y", "type": "quantitative"}, "text": {"field": "t"}}},
      {"data": {"name": "ptA"}, "transform": [{"filter": "datum.k == 'bs'"}], "mark": {"type": "text", "fontSize": 24, "fontWeight": "bold", "align": "left", "baseline": "alphabetic"},
       "encoding": {"x": {"field": "x", "type": "quantitative", "axis": null}, "y": {"field": "y", "type": "quantitative"}, "text": {"field": "t"}}},
      {"data": {"name": "ptA"}, "transform": [{"filter": "datum.k == 'r'"}], "mark": {"type": "text", "fontSize": 35, "align": "right", "baseline": "alphabetic"},
       "encoding": {"x": {"field": "x", "type": "quantitative", "axis": null}, "y": {"field": "y", "type": "quantitative"}, "text": {"field": "t"}}}
     ]
    }
   ],
   "spacing": 10, "bounds": "flush"
  },
  {"width": 805, "height": 1, "data": {"values": []}, "mark": "point", "view": {"stroke": null}},
  {
   "width": 588, "height": 1074,
   "view": {"stroke": "black", "strokeWidth": 3},
   "resolve": {"axis": {"x": "independent"}},
   "layer": [
    {"data": {"name": "o"}, "mark": {"type": "line", "interpolate": "monotone", "strokeWidth": 3, "clip": true},
     "encoding": {
      "x": {"field": "x", "type": "quantitative", "scale": {"domain": [527, 536], "reverse": true, "nice": false, "zero": false},
       "axis": {"orient": "bottom", "values": [528,530,532,534,536], "tickSize": -20, "tickWidth": 2.5, "domain": false, "labelFontSize": 46, "labelPadding": 43, "labelFlush": false, "labelOverlap": false, "title": "Binding energy [eV]", "titleFontSize": 56, "titlePadding": 28}},
      "y": {"field": "f", "type": "quantitative", "scale": {"domain": [0, 1072], "nice": false, "zero": false},
       "axis": {"values": [1010,947,884,821,757,694,631,568,505], "labels": false, "tickSize": -21, "tickWidth": 2.5, "domain": false, "title": "CPS [a. u.]", "titleFontSize": 56, "titleX": -103, "titleY": 511, "titleAngle": 270, "titleAlign": "center", "titleBaseline": "middle"}},
      "color": {"field": "c", "type": "nominal", "scale": {"domain": ["300","200","100","50","20","10","pt","ox","rd"], "range": ["#35cc35","#3aa0a8","#a0a020","#8c2a8c","#22228c","#ff3dff","#ff2020","#b47c7c","#9ec22c"]}, "legend": null}
     }},
    {"data": {"name": "o"}, "mark": {"type": "point", "filled": true, "size": 16, "color": "black", "opacity": 1, "clip": true},
     "encoding": {
      "x": {"field": "x", "type": "quantitative", "axis": {"orient": "bottom", "values": [527,529,531,533,535], "labels": false, "tickSize": -10, "tickWidth": 2.5, "domain": false, "title": null}},
      "y": {"field": "o", "type": "quantitative"}}},
    {"data": {"name": "oL"}, "mark": {"type": "rule", "color": "black", "strokeWidth": 1.5},
     "encoding": {"x": {"field": "x", "type": "quantitative", "axis": null}, "y": {"field": "y", "type": "quantitative"}, "x2": {"field": "x2"}, "y2": {"field": "y2"}}},
    {"data": {"name": "oA"}, "transform": [{"filter": "datum.k == 'm'"}], "mark": {"type": "text", "fontSize": 35, "align": "left", "baseline": "alphabetic"},
     "encoding": {"x": {"field": "x", "type": "quantitative", "axis": null}, "y": {"field": "y", "type": "quantitative"}, "text": {"field": "t"}}},
    {"data": {"name": "oA"}, "transform": [{"filter": "datum.k == 's'"}], "mark": {"type": "text", "fontSize": 24, "align": "left", "baseline": "alphabetic"},
     "encoding": {"x": {"field": "x", "type": "quantitative", "axis": null}, "y": {"field": "y", "type": "quantitative"}, "text": {"field": "t"}}},
    {"data": {"name": "oA"}, "transform": [{"filter": "datum.k == 'b'"}], "mark": {"type": "text", "fontSize": 34, "fontWeight": "bold", "align": "left", "baseline": "alphabetic"},
     "encoding": {"x": {"field": "x", "type": "quantitative", "axis": null}, "y": {"field": "y", "type": "quantitative"}, "text": {"field": "t"}}},
    {"data": {"name": "oA"}, "transform": [{"filter": "datum.k == 'r'"}], "mark": {"type": "text", "fontSize": 35, "align": "right", "baseline": "alphabetic"},
     "encoding": {"x": {"field": "x", "type": "quantitative", "axis": null}, "y": {"field": "y", "type": "quantitative"}, "text": {"field": "t"}}}
   ]
  }
 ],
 "spacing": 0, "bounds": "flush"
},
{
 "hconcat": [
  {"width": 67, "height": 1, "data": {"values": []}, "mark": "point", "view": {"stroke": null}},
  {
   "vconcat": [
    {"width": 1, "height": 1, "data": {"values": []}, "mark": "point", "view": {"stroke": null}},
    {
     "width": 785, "height": 633,
     "view": {"stroke": "black", "strokeWidth": 2},
     "layer": [
      {"data": {"name": "blf"}, "mark": {"type": "line", "interpolate": "monotone", "color": "#ff0000", "strokeWidth": 2},
       "encoding": {
        "x": {"field": "x", "type": "quantitative", "scale": {"domain": [-10, 310], "nice": false, "zero": false},
         "axis": {"values": [0,25,50,75,100,125,150,175,200,225,250,275,300], "labelExpr": "datum.value % 50 == 0 ? datum.label : ''", "tickSize": {"condition": {"test": "datum.value % 50 == 0", "value": -13}, "value": -6}, "tickWidth": 2, "domain": false, "labelFontSize": 27, "labelPadding": 26, "labelFlush": false, "labelOverlap": false, "title": "Oxygen Dosage [L]", "titleFontSize": 32, "titlePadding": 14}},
        "y": {"field": "y", "type": "quantitative", "scale": {"domain": [0.08, 0.21], "nice": false, "zero": false},
         "axis": {"values": [0.08,0.09,0.1,0.11,0.12,0.13,0.14,0.15,0.16,0.17,0.18,0.19,0.2], "labelExpr": "round(datum.value*100) % 2 == 0 ? replace(format(datum.value, '.2f'), '.', ',') : ''", "tickSize": {"condition": {"test": "round(datum.value*100) % 2 == 0", "value": -13}, "value": -6}, "tickWidth": 2, "domain": false, "labelFontSize": 27, "labelPadding": 28, "labelFlush": false, "labelOverlap": false, "title": "Intensity Ti2p₃/₂ / Pt4f₇/₂", "titleFontSize": 33, "titlePadding": 12}}
       }},
      {"data": {"name": "bl"}, "mark": {"type": "point", "shape": "square", "filled": true, "size": 400, "color": "black", "opacity": 1},
       "encoding": {"x": {"field": "x", "type": "quantitative"}, "y": {"field": "y", "type": "quantitative"}}},
      {"data": {"name": "blA"}, "mark": {"type": "text", "fontSize": 35, "align": "right", "baseline": "alphabetic"},
       "encoding": {"x": {"field": "x", "type": "quantitative"}, "y": {"field": "y", "type": "quantitative"}, "text": {"field": "t"}}}
     ]
    }
   ],
   "spacing": 30, "bounds": "flush"
  },
  {"width": 1274, "height": 1, "data": {"values": []}, "mark": "point", "view": {"stroke": null}},
  {
   "width": 818, "height": 659,
   "view": {"stroke": "black", "strokeWidth": 2},
   "layer": [
    {"data": {"name": "brf"}, "mark": {"type": "line", "interpolate": "monotone", "color": "#ff0000", "strokeWidth": 2},
     "encoding": {
      "x": {"field": "x", "type": "quantitative", "scale": {"domain": [-10, 310], "nice": false, "zero": false},
       "axis": {"values": [0,25,50,75,100,125,150,175,200,225,250,275,300], "labelExpr": "datum.value % 50 == 0 ? datum.label : ''", "tickSize": {"condition": {"test": "datum.value % 50 == 0", "value": -13}, "value": -6}, "tickWidth": 2, "domain": false, "labelFontSize": 27, "labelPadding": 30, "labelFlush": false, "labelOverlap": false, "title": "Oxygen Dosage [L]", "titleFontSize": 32, "titlePadding": 12}},
      "y": {"field": "y", "type": "quantitative", "scale": {"domain": [-0.05, 1.0], "nice": false, "zero": false},
       "axis": {"values": [0,0.1,0.2,0.3,0.4,0.5,0.6,0.7,0.8,0.9,1.0], "labelExpr": "round(datum.value*10) % 2 == 0 ? replace(format(datum.value, '.1f'), '.', ',') : ''", "tickSize": {"condition": {"test": "round(datum.value*10) % 2 == 0", "value": -13}, "value": -6}, "tickWidth": 2, "domain": false, "labelFontSize": 27, "labelPadding": 27, "labelFlush": false, "labelOverlap": false, "title": "Intensity O1s / Ti2p₃/₂", "titleFontSize": 33, "titlePadding": 12}}
     }},
    {"data": {"name": "br"}, "mark": {"type": "point", "shape": "square", "filled": true, "size": 400, "color": "black", "opacity": 1},
     "encoding": {"x": {"field": "x", "type": "quantitative"}, "y": {"field": "y", "type": "quantitative"}}},
    {"data": {"name": "brA"}, "mark": {"type": "text", "fontSize": 35, "align": "right", "baseline": "alphabetic"},
     "encoding": {"x": {"field": "x", "type": "quantitative"}, "y": {"field": "y", "type": "quantitative"}, "text": {"field": "t"}}}
   ]
  }
 ],
 "spacing": 0, "bounds": "flush"
}
],
"spacing": 1294,
"bounds": "flush"
}
